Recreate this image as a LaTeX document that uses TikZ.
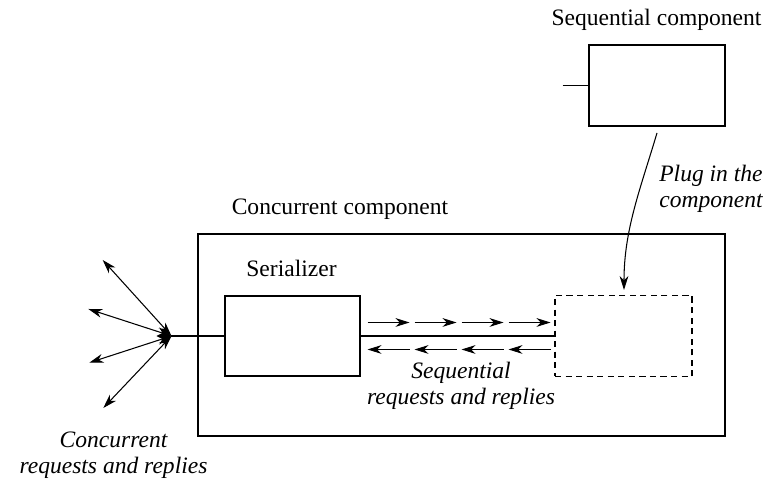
\documentclass[tikz,border=0pt]{standalone}
\usepackage{fontspec}
\setmainfont{Liberation Serif}
\usetikzlibrary{positioning,calc,arrows.meta}

\begin{document}
\begin{tikzpicture}[
    box/.style={draw, line width=0.6pt, inner sep=0pt, minimum width=2.7cm, minimum height=1.6cm},
    dashbox/.style={box, dash pattern=on 3.5pt off 2.5pt},
    reqtip/.tip={Stealth[length=8pt,width=5pt,inset=2.5pt]},
    arr/.style={-reqtip, line width=0.6pt},
    lbl/.style={font=\fontsize{13.4}{14.8}\selectfont, anchor=base, inner sep=0pt},
    ilbl/.style={lbl, font=\fontsize{13.4}{14.8}\selectfont\itshape, align=center},
]
    \useasboundingbox (0,0) rectangle (15.4,9.68);
    % Sequential component
    \node[box, minimum width=2.72cm, minimum height=1.62cm] (seq) at (13.14,7.97) {};
    \coordinate (stub) at (11.25,7.97);
    \draw[line width=0.6pt] (stub) -- (seq.west);
    \node[lbl] (seqlbl) at (13.13,9.16) {Sequential component};
    % Concurrent component
    \node[box, minimum width=10.54cm, minimum height=4.04cm] (conc) at (9.23,2.98) {};
    \node[lbl] (conclbl) at (6.8,5.38) {Concurrent component};
    % Serializer and the plugged-in slot
    \node[box] (ser) at (5.85,2.96) {};
    \node[lbl] (serlbl) at (5.83,4.14) {Serializer};
    \node[dashbox, minimum width=2.74cm, minimum height=1.62cm] (slot) at (12.47,2.96) {};
    \draw[line width=0.6pt] (ser.east) -- (slot.west);
    % Sequential requests and replies
    \foreach \i in {0,...,3} {
        \draw[arr] ($(ser.east)+(0.14+0.94*\i,0.27)$) -- ++(0.84,0);
        \draw[arr] ($(ser.east)+(0.98+0.94*\i,-0.27)$) -- ++(-0.84,0);
    }
    \node[ilbl] (seqreq) at (9.22,1.58) {Sequential\\requests and replies};
    % Plug in
    \coordinate (plugtop) at (13.14,7.02);
    \coordinate (plugend) at (12.48,3.88);
    \draw[arr] (plugtop) .. controls (12.8,5.88) and (12.48,5.08) .. (plugend);
    \node[ilbl, align=right, anchor=base east] (pluglbl) at (15.26,5.52) {Plug in the\\component};
    % Concurrent requests and replies
    \coordinate (hub) at (3.43,2.96);
    \draw[line width=0.6pt] (hub) -- (ser.west);
    \foreach \p in {(2.054,4.48),(1.766,3.5),(1.786,2.426),(2.066,1.52)} {
        \draw[line width=0.6pt, reqtip-reqtip] (hub) -- \p;
    }
    \node[ilbl] (concreq) at (2.27,0.2) {Concurrent\\requests and replies};
\end{tikzpicture}
\end{document}
